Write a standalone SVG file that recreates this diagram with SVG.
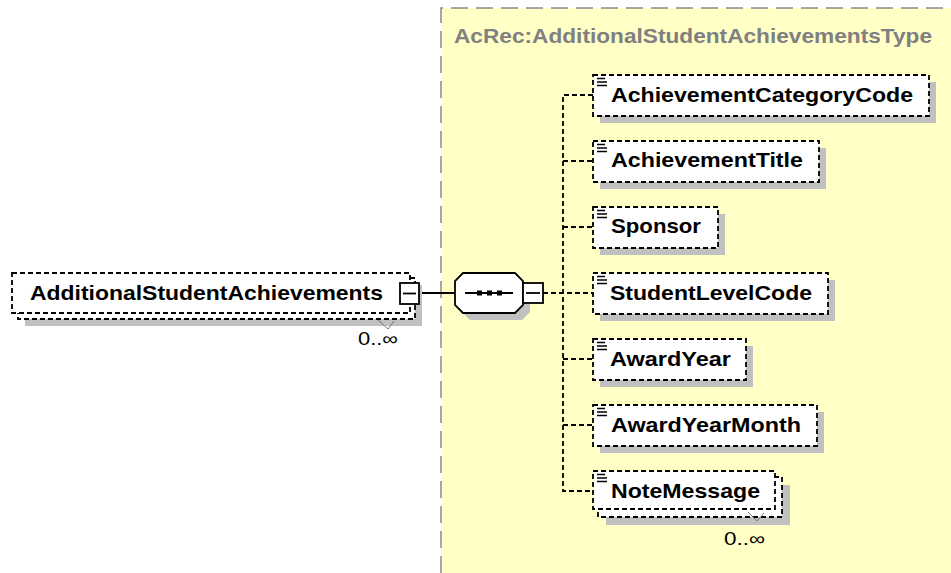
<svg xmlns="http://www.w3.org/2000/svg" width="951" height="573" viewBox="0 0 951 573">
<defs>
<style>
.bg{fill:#FFFFC6;stroke:none}
.frame{fill:none;stroke:#8a8a8a;stroke-width:1.5;stroke-dasharray:17,8}
.box{fill:#fff;stroke:#000;stroke-width:1.8;stroke-dasharray:5,3}
.shadow{fill:#c0c0c0;stroke:none}
.lbl{font-family:"Liberation Sans",Arial,sans-serif;font-weight:bold;font-size:21px;fill:#000}
.title{font-family:"Liberation Sans",Arial,sans-serif;font-weight:bold;font-size:21px;fill:#808080}
.mult{font-family:"Liberation Sans",Arial,sans-serif;font-size:18px;fill:#000}
.conn{fill:none;stroke:#000;stroke-width:1.8;stroke-dasharray:5,3}
.solid{fill:none;stroke:#000;stroke-width:1.8}
.btn{fill:#fff;stroke:#000;stroke-width:1.8}
.icon{stroke:#000;stroke-width:1.3}
</style>
</defs>
<rect class="bg" x="441" y="8" width="510" height="565"/>
<path class="frame" d="M441,573 V8 H951"/>
<text class="title" x="454" y="43" textLength="478" lengthAdjust="spacingAndGlyphs">AcRec:AdditionalStudentAchievementsType</text>

<g id="connectors">
<line class="solid" x1="419" y1="293" x2="455" y2="293"/>
<line class="conn" x1="543" y1="293" x2="593" y2="293"/>
<path class="conn" d="M593,95 H563 V491 H593"/>
<line class="conn" x1="563" y1="161" x2="593" y2="161"/>
<line class="conn" x1="563" y1="227" x2="593" y2="227"/>
<line class="conn" x1="563" y1="359" x2="593" y2="359"/>
<line class="conn" x1="563" y1="425" x2="593" y2="425"/>
</g>

<g id="AdditionalStudentAchievements">
<rect class="shadow" x="25" y="285" width="397" height="41"/>
<rect class="box" x="18" y="278" width="397" height="41"/>
<rect class="box" x="12" y="273" width="398" height="40"/>
<text class="lbl" x="30" y="300" textLength="353" lengthAdjust="spacingAndGlyphs">AdditionalStudentAchievements</text>
<rect class="btn" x="400" y="283" width="19" height="21"/>
<line class="solid" x1="403" y1="293.5" x2="416" y2="293.5"/>
<polyline points="378,320 388,329 394,321" fill="none" stroke="#777" stroke-width="1"/>
<text class="mult" x="358" y="345" textLength="40" lengthAdjust="spacingAndGlyphs">0..∞</text>
</g>

<g id="sequence">
<polygon class="shadow" points="470,280 522,280 530,288 530,312 522,320 470,320 462,312 462,288"/>
<polygon class="btn" points="463,273 515,273 523,281 523,305 515,313 463,313 455,305 455,281"/>
<line class="solid" x1="465" y1="293" x2="513" y2="293"/>
<rect x="477" y="290.5" width="5" height="5" fill="#000"/>
<rect x="487" y="290.5" width="5" height="5" fill="#000"/>
<rect x="497" y="290.5" width="5" height="5" fill="#000"/>
<rect class="btn" x="523" y="283" width="20" height="20"/>
<line class="solid" x1="526" y1="293" x2="540" y2="293"/>
</g>

<g id="AchievementCategoryCode">
<rect class="shadow" x="600" y="82" width="336" height="41"/>
<rect class="box" x="593" y="75" width="336" height="41"/>
<path class="icon" d="M597,78.5h8M597,82h10M597,85.5h10"/>
<text class="lbl" x="611" y="102" textLength="302" lengthAdjust="spacingAndGlyphs">AchievementCategoryCode</text>
</g>

<g id="AchievementTitle">
<rect class="shadow" x="600" y="148" width="226" height="41"/>
<rect class="box" x="593" y="141" width="226" height="41"/>
<path class="icon" d="M597,144.5h8M597,148h10M597,151.5h10"/>
<text class="lbl" x="611" y="167" textLength="192" lengthAdjust="spacingAndGlyphs">AchievementTitle</text>
</g>

<g id="Sponsor">
<rect class="shadow" x="600" y="214" width="125" height="41"/>
<rect class="box" x="593" y="207" width="125" height="41"/>
<path class="icon" d="M597,210.5h8M597,214h10M597,217.5h10"/>
<text class="lbl" x="611" y="233" textLength="90" lengthAdjust="spacingAndGlyphs">Sponsor</text>
</g>

<g id="StudentLevelCode">
<rect class="shadow" x="600" y="280" width="235" height="41"/>
<rect class="box" x="593" y="273" width="235" height="41"/>
<path class="icon" d="M597,276.5h8M597,280h10M597,283.5h10"/>
<text class="lbl" x="610" y="300" textLength="202" lengthAdjust="spacingAndGlyphs">StudentLevelCode</text>
</g>

<g id="AwardYear">
<rect class="shadow" x="600" y="346" width="153" height="41"/>
<rect class="box" x="593" y="339" width="153" height="41"/>
<path class="icon" d="M597,342.5h8M597,346h10M597,349.5h10"/>
<text class="lbl" x="610" y="366" textLength="121" lengthAdjust="spacingAndGlyphs">AwardYear</text>
</g>

<g id="AwardYearMonth">
<rect class="shadow" x="600" y="412" width="224" height="41"/>
<rect class="box" x="593" y="405" width="224" height="41"/>
<path class="icon" d="M597,408.5h8M597,412h10M597,415.5h10"/>
<text class="lbl" x="611" y="432" textLength="190" lengthAdjust="spacingAndGlyphs">AwardYearMonth</text>
</g>

<g id="NoteMessage">
<rect class="shadow" x="606" y="485" width="184" height="40"/>
<rect class="box" x="598" y="477" width="184" height="40"/>
<rect class="box" x="593" y="471" width="182" height="38"/>
<path class="icon" d="M597,474.5h8M597,478h10M597,481.5h10"/>
<text class="lbl" x="611" y="498" textLength="149" lengthAdjust="spacingAndGlyphs">NoteMessage</text>
<polyline points="748,512 757,521 764,513" fill="none" stroke="#777" stroke-width="1"/>
<text class="mult" x="724" y="545" textLength="41" lengthAdjust="spacingAndGlyphs">0..∞</text>
</g>
</svg>
